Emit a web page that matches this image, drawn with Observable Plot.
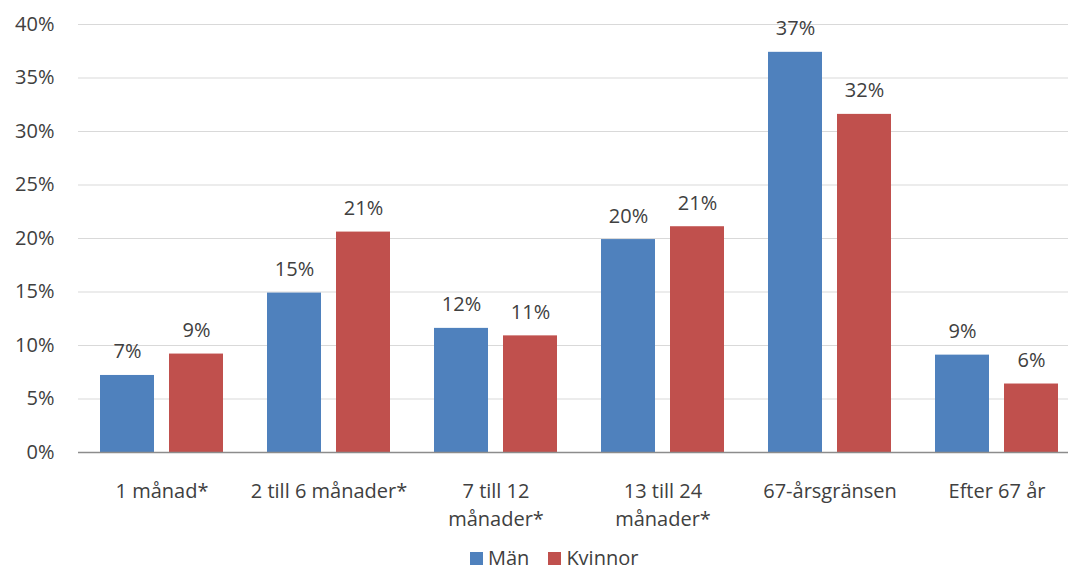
<!DOCTYPE html>
<html><head><meta charset="utf-8">
<script src="https://cdn.jsdelivr.net/npm/d3@7"></script>
<script src="https://cdn.jsdelivr.net/npm/@observablehq/plot@0.6"></script>
<style>
body{margin:0;background:#fff;font-family:"Open Sans", sans-serif;overflow:hidden;}
#legend{position:absolute;left:470px;top:550px;height:16px;line-height:16px;}
.lg-swatches-wrap{min-height:16px !important;margin:0 !important;line-height:16px;}
.lg-swatch > svg { margin-right: 5px !important; }
.lg-swatch { margin-right: 19px !important; }
</style></head><body><div id="chart"></div><div id="legend"></div>
<script>
const categories = ["1 månad*", "2 till 6 månader*", "7 till 12\nmånader*", "13 till 24\nmånader*", "67-årsgränsen", "Efter 67 år"];
const seriesNames = ["Män", "Kvinnor"];
const manValues = [7.2, 14.9, 11.6, 19.9, 37.4, 9.1];
const kvinnorValues = [9.2, 20.6, 10.9, 21.1, 31.6, 6.4];
const colors = ["#4F81BD", "#C0504D"];
const yTicks = [0, 5, 10, 15, 20, 25, 30, 35, 40];

const data = categories.flatMap((c, i) => [
  {category: c, series: "Män", value: manValues[i]},
  {category: c, series: "Kvinnor", value: kvinnorValues[i]}
]);

const chart = Plot.plot({
  width: 1068, height: 535,
  marginLeft: 76, marginRight: -14, marginTop: 24, marginBottom: 83,
  style: {fontFamily: "'Open Sans', sans-serif", fontSize: "20px", color: "#404040", background: "#fff"},
  fx: {domain: categories, padding: 0},
  x: {domain: seriesNames, paddingInner: 0.214, paddingOuter: 0.305, axis: null},
  y: {domain: [0, 40]},
  color: {domain: seriesNames, range: colors},
  marks: [
    Plot.ruleY(yTicks.filter(d => d > 0), {stroke: "#d9d9d9", strokeWidth: 1}),
    Plot.barY(data, {fx: "category", x: "series", y: "value", fill: "series"}),
    Plot.text(data, {fx: "category", x: "series", y: "value", text: d => Math.round(d.value) + "%", dy: -17, lineAnchor: "bottom", fontSize: 20, fill: "#404040"}),
    Plot.ruleY([0], {stroke: "#8c8c8c", strokeWidth: 1.5}),
    Plot.axisY(yTicks, {tickSize: 0, tickPadding: 24, tickFormat: d => d + "%", fontSize: 20, label: null}),
    Plot.axisFx({anchor: "bottom", tickSize: 0, tickPadding: 26, fontSize: 20, lineHeight: 1.4, label: null})
  ]
});
document.getElementById("chart").appendChild(chart);

const legend = Plot.legend({
  color: {domain: seriesNames, range: colors},
  swatchSize: 13,
  className: "lg",
  style: {fontSize: "20px", fontFamily: "'Open Sans', sans-serif", color: "#404040"}
});
document.getElementById("legend").appendChild(legend);
</script></body></html>
